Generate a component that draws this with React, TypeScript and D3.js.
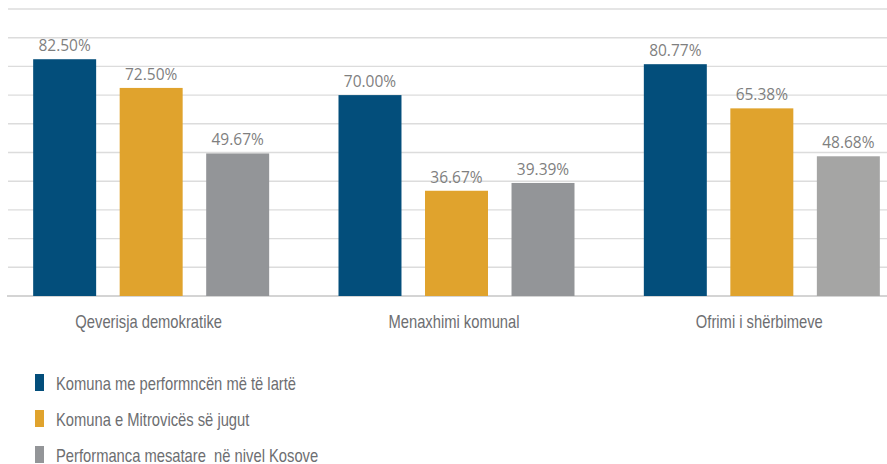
import * as d3 from 'd3'

const categories = ['Qeverisja demokratike', 'Menaxhimi komunal', 'Ofrimi i shërbimeve']
const seriesNames = [
  'Komuna me performncën më të lartë',
  'Komuna e Mitrovicës së jugut',
  'Performanca mesatare  në nivel Kosove',
]
const topMunicipality = [82.5, 70.0, 80.77]
const southMitrovica = [72.5, 36.67, 65.38]
const kosovoAverage = [49.67, 39.39, 48.68]
const yTicks = [0, 10, 20, 30, 40, 50, 60, 70, 80, 90, 100]

const seriesValues = [topMunicipality, southMitrovica, kosovoAverage]
const colors = ['#034e7b', '#e0a32d', '#939598']
const lastGroupGray = '#a5a5a4'

const width = 887
const height = 464
// condensed look: regular sans squeezed horizontally
const narrow = '"Liberation Sans", Arial, sans-serif'
const squeeze = 0.82

export default function App() {
  const y = d3.scaleLinear().domain([0, 100]).range([296, 9])
  const x0 = d3.scaleBand<string>().domain(categories).range([-1, 915])
  const x1 = d3
    .scaleBand<number>()
    .domain([0, 1, 2])
    .range([34, 270])
    .paddingInner(0.272)
    .paddingOuter(0)
  const offset = (x0.bandwidth() - 305) / 2

  return (
    <svg
      width={width}
      height={height}
      style={{ position: 'absolute', left: 0, top: 0, background: '#fff' }}
    >
      {/* gridlines */}
      {yTicks.map(t => (
        <line
          key={t}
          x1={t === 0 ? 7 : 8}
          x2={width}
          y1={y(t)}
          y2={y(t)}
          stroke={t === 0 ? '#d4d4d4' : '#dcdcdc'}
          strokeWidth={t === 0 ? 1.8 : 1.4}
        />
      ))}

      {/* bars and value labels */}
      {categories.map((cat, ci) => (
        <g key={cat} transform={`translate(${x0(cat)! + offset},0)`}>
          {seriesValues.map((vals, si) => {
            const v = vals[ci]
            const fill = si === 2 && ci === 2 ? lastGroupGray : colors[si]
            return (
              <g key={si}>
                <rect
                  x={x1(si)}
                  y={y(v)}
                  width={x1.bandwidth()}
                  height={y(0) - y(v)}
                  fill={fill}
                />
                <text
                  x={x1(si)! + x1.bandwidth() / 2}
                  y={y(v) - 8}
                  textAnchor="middle"
                  fontFamily='"Open Sans", sans-serif'
                  fontSize={15.5}
                  fill="#7f7f7f"
                >
                  {v.toFixed(2)}%
                </text>
              </g>
            )
          })}
        </g>
      ))}

      {/* category labels */}
      {categories.map(cat => (
        <text
          key={cat}
          transform={`translate(${x0(cat)! + x0.bandwidth() / 2 - 3},328) scale(${squeeze},1)`}
          textAnchor="middle"
          fontFamily={narrow}
          fontSize={18}
          fill="#6d6e71"
        >
          {cat}
        </text>
      ))}

      {/* legend */}
      {seriesNames.map((name, i) => (
        <g key={name} transform={`translate(35,${374 + i * 36})`}>
          <rect x={0} y={0} width={9} height={17} fill={colors[i]} />
          <text
            transform={`translate(21,16) scale(${squeeze},1)`}
            fontFamily={narrow}
            fontSize={18}
            fill="#6d6e71"
            style={{ whiteSpace: 'pre' }}
          >
            {name}
          </text>
        </g>
      ))}
    </svg>
  )
}
